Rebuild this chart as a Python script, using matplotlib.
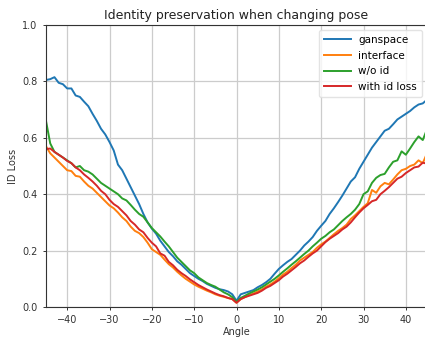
import numpy as np
import matplotlib
matplotlib.use("Agg")
import matplotlib.pyplot as plt

angles = list(range(-45, 46))

ganspace = [0.805, 0.808, 0.815, 0.795, 0.790, 0.775, 0.775, 0.750, 0.745, 0.728,
            0.712, 0.685, 0.660, 0.632, 0.612, 0.585, 0.555, 0.505, 0.485, 0.455,
            0.425, 0.395, 0.365, 0.330, 0.300, 0.278, 0.260, 0.235, 0.215, 0.195,
            0.180, 0.162, 0.150, 0.135, 0.120, 0.110, 0.100, 0.092, 0.082, 0.075,
            0.068, 0.063, 0.060, 0.055, 0.045, 0.022, 0.045, 0.050, 0.055, 0.060,
            0.070, 0.078, 0.088, 0.100, 0.118, 0.135, 0.148, 0.160, 0.170, 0.185,
            0.200, 0.218, 0.232, 0.248, 0.270, 0.288, 0.305, 0.330, 0.350, 0.372,
            0.395, 0.420, 0.445, 0.460, 0.490, 0.515, 0.540, 0.565, 0.585, 0.605,
            0.625, 0.632, 0.648, 0.665, 0.675, 0.685, 0.695, 0.708, 0.718, 0.722,
            0.735]

interface = [0.570, 0.545, 0.530, 0.515, 0.500, 0.485, 0.482, 0.465, 0.462, 0.445,
             0.430, 0.420, 0.405, 0.390, 0.375, 0.360, 0.350, 0.335, 0.318, 0.305,
             0.285, 0.270, 0.262, 0.248, 0.228, 0.205, 0.195, 0.185, 0.168, 0.152,
             0.140, 0.125, 0.112, 0.100, 0.090, 0.080, 0.072, 0.065, 0.058, 0.052,
             0.045, 0.040, 0.036, 0.032, 0.028, 0.015, 0.028, 0.035, 0.042, 0.048,
             0.055, 0.062, 0.072, 0.080, 0.090, 0.102, 0.115, 0.125, 0.138, 0.150,
             0.165, 0.175, 0.185, 0.195, 0.210, 0.222, 0.232, 0.245, 0.258, 0.270,
             0.280, 0.292, 0.312, 0.325, 0.340, 0.355, 0.368, 0.415, 0.405, 0.428,
             0.440, 0.435, 0.452, 0.470, 0.485, 0.490, 0.500, 0.505, 0.520, 0.510,
             0.545]

wo_id = [0.660, 0.580, 0.550, 0.540, 0.530, 0.520, 0.510, 0.495, 0.500, 0.485,
         0.480, 0.470, 0.455, 0.440, 0.430, 0.420, 0.410, 0.400, 0.385, 0.378,
         0.362, 0.345, 0.330, 0.320, 0.300, 0.280, 0.265, 0.250, 0.232, 0.215,
         0.195, 0.175, 0.160, 0.145, 0.130, 0.120, 0.105, 0.095, 0.085, 0.078,
         0.072, 0.062, 0.052, 0.045, 0.035, 0.018, 0.032, 0.040, 0.048, 0.055,
         0.062, 0.070, 0.080, 0.090, 0.100, 0.112, 0.125, 0.137, 0.150, 0.162,
         0.175, 0.188, 0.200, 0.215, 0.228, 0.242, 0.252, 0.265, 0.275, 0.290,
         0.305, 0.318, 0.330, 0.345, 0.365, 0.400, 0.410, 0.440, 0.458, 0.468,
         0.472, 0.495, 0.515, 0.520, 0.552, 0.540, 0.562, 0.585, 0.605, 0.592,
         0.630]

with_id_loss = [0.560, 0.562, 0.550, 0.540, 0.530, 0.518, 0.510, 0.495, 0.485, 0.470,
                0.458, 0.445, 0.430, 0.412, 0.400, 0.380, 0.365, 0.355, 0.340, 0.325,
                0.305, 0.292, 0.275, 0.265, 0.245, 0.228, 0.215, 0.190, 0.182, 0.160,
                0.148, 0.132, 0.120, 0.110, 0.098, 0.088, 0.078, 0.070, 0.062, 0.055,
                0.048, 0.042, 0.038, 0.032, 0.028, 0.015, 0.028, 0.035, 0.040, 0.045,
                0.050, 0.058, 0.068, 0.075, 0.085, 0.095, 0.108, 0.118, 0.130, 0.142,
                0.155, 0.165, 0.178, 0.190, 0.200, 0.215, 0.230, 0.242, 0.252, 0.262,
                0.275, 0.285, 0.300, 0.318, 0.335, 0.350, 0.362, 0.375, 0.380, 0.400,
                0.412, 0.425, 0.440, 0.455, 0.462, 0.475, 0.485, 0.495, 0.498, 0.512,
                0.508]

series_names = ["ganspace", "interface", "w/o id", "with id loss"]
colors = ["#1f77b4", "#ff7f0e", "#2ca02c", "#d62728"]

fig = plt.figure(figsize=(4.25, 3.43), dpi=100)
ax = fig.add_axes([46 / 425, 1 - 307 / 343, 381 / 425, 282 / 343])

for name, vals, c in zip(series_names, [ganspace, interface, wo_id, with_id_loss], colors):
    ax.plot(angles, vals, color=c, lw=1.4, label=name)

ax.set_xlim(-45, 45)
ax.set_ylim(0, 1.0)
ax.set_xticks([-40, -30, -20, -10, 0, 10, 20, 30, 40])
ax.set_yticks([0.0, 0.2, 0.4, 0.6, 0.8, 1.0])
ax.grid(True, color="#cccccc", lw=0.9)
ax.tick_params(labelsize=7, length=2.5, width=0.7, colors="#333333")
for s in ax.spines.values():
    s.set_linewidth(0.8)
    s.set_color("#333333")
ax.set_xlabel("Angle", fontsize=7, labelpad=1, color="#333333")
ax.set_ylabel("ID Loss", fontsize=7, labelpad=3, color="#333333")
ax.set_title("Identity preservation when changing pose", fontsize=9, pad=4, color="#222222")
ax.legend(loc="upper right", fontsize=7.5, framealpha=0.8, borderpad=0.45,
          handlelength=2.6, handletextpad=0.7, labelspacing=0.55, edgecolor="#dddddd")

fig.savefig("out.png", dpi=100)
